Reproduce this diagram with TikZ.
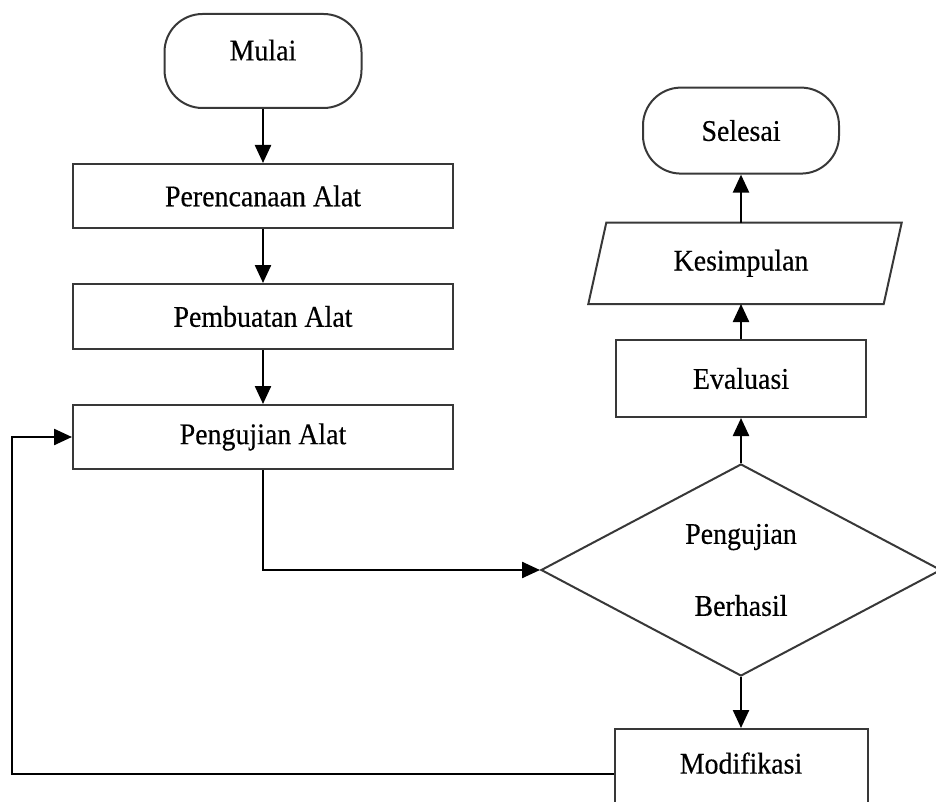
\documentclass[tikz,border=0pt]{standalone}
\usepackage{fontspec}
\setmainfont{Liberation Serif}[FakeStretch=0.93,FakeBold=0.4]
\usetikzlibrary{arrows.meta,positioning,shapes.geometric,calc}

\begin{document}
\begin{tikzpicture}[
  x=1pt, y=-1pt,
  font=\fontsize{30}{34}\selectfont,
  garis/.style={draw=black!78, line width=2pt},
  terminal/.style={garis, rectangle, rounded corners=38pt, inner sep=0pt},
  proses/.style={garis, rectangle, minimum width=380pt, minimum height=64pt, inner sep=0pt},
  keputusan/.style={garis, diamond, aspect=1.9, minimum width=400pt, minimum height=212pt, inner sep=0pt, align=center},
  arr/.style={-{Triangle[length=18pt,width=16pt]}, line width=2.4pt},
  node distance=54pt
]
\useasboundingbox (0,0) rectangle (936,802);
\clip (0,0) rectangle (936,802);

% kolom kiri
\node[terminal, minimum width=197pt, minimum height=94pt, text depth=22pt] (mulai) at (263,61) {Mulai};
\node[proses, below=of mulai]  (rencana) {Perencanaan Alat};
\node[proses, below=of rencana, minimum height=65pt] (buat) {Pembuatan Alat};
\node[proses, below=of buat]   (uji) {Pengujian Alat};

% kolom kanan
\node[keputusan] (cek) at (741,570) {Pengujian\\[38pt]Berhasil};
\node[proses, minimum width=250pt, minimum height=77pt, above=45pt of cek] (eval) {Evaluasi};
\node[minimum width=295pt, minimum height=81pt, inner sep=0pt, above=35pt of eval] (simpul) {Kesimpulan};
\draw[garis] ($(simpul.north west)+(13,0)$) -- ($(simpul.north east)+(13,0)$)
  -- ($(simpul.south east)+(-5,0)$) -- ($(simpul.south west)+(-5,0)$) -- cycle;
\node[terminal, minimum width=196pt, minimum height=86pt, above=48pt of simpul] (selesai) {Selesai};
\node[proses, minimum width=253pt, minimum height=90pt, text depth=22pt, below=51pt of cek] (modif) {Modifikasi};

\coordinate (balik) at (12,430);

\draw[arr] (mulai) -- (rencana);
\draw[arr] (rencana) -- (buat);
\draw[arr] (buat) -- (uji);
\draw[arr] (uji.south) |- (cek.west);
\draw[arr] (cek.south) -- (modif.north);
\draw[arr] (modif.west) -- (modif.west -| balik) |- (uji.west);
\draw[arr] (cek.north) -- (eval.south);
\draw[arr] (eval.north) -- (simpul.south);
\draw[arr] (simpul.north) -- (selesai.south);
\end{tikzpicture}
\end{document}
